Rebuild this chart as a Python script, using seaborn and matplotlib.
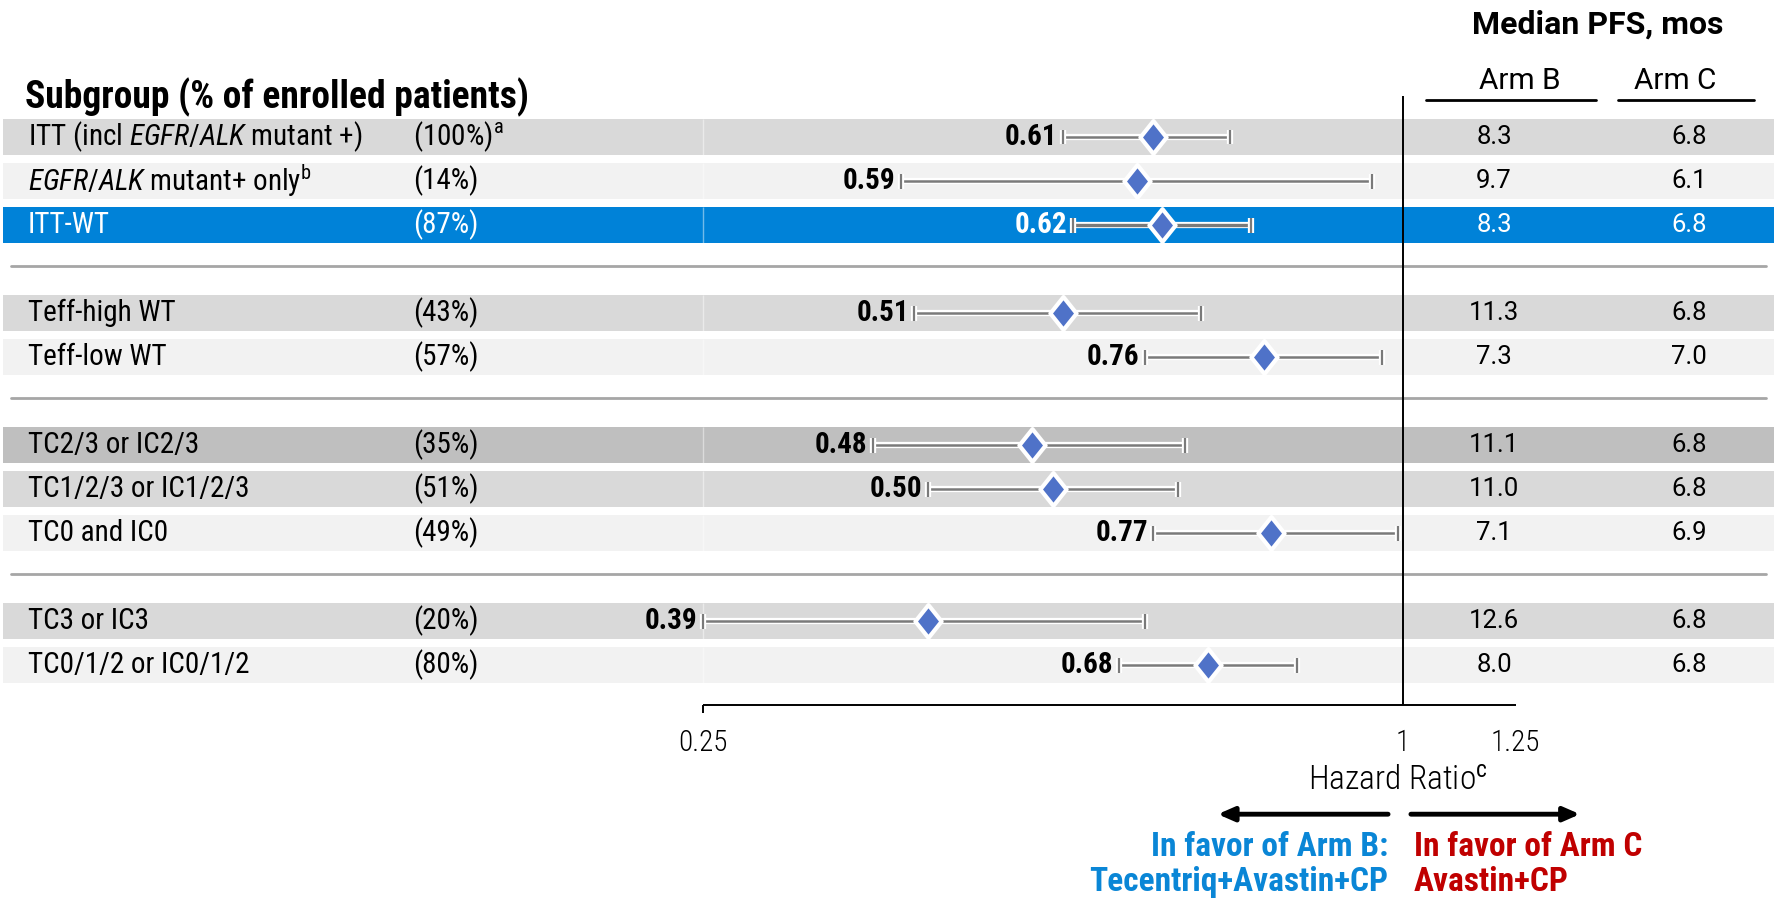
import matplotlib
matplotlib.use("Agg")
import matplotlib.pyplot as plt
import matplotlib.transforms as mtransforms
import matplotlib.patheffects as pe
from matplotlib.path import Path
from matplotlib import font_manager
import numpy as np
import pandas as pd
import seaborn as sns

# ---- data ----
subgroups = [
    r"ITT (incl $\mathit{EGFR/ALK}$ mutant +)",
    r"$\mathit{EGFR/ALK}$ mutant+ only$^{\mathrm{b}}$",
    "ITT-WT",
    "Teff-high WT",
    "Teff-low WT",
    "TC2/3 or IC2/3",
    "TC1/2/3 or IC1/2/3",
    "TC0 and IC0",
    "TC3 or IC3",
    "TC0/1/2 or IC0/1/2",
]
enrolled = [r"(100%)$^{\mathrm{a}}$", "(14%)", "(87%)", "(43%)", "(57%)",
            "(35%)", "(51%)", "(49%)", "(20%)", "(80%)"]
groups = [0, 0, 0, 1, 1, 2, 2, 2, 3, 3]
hazard_ratio = [0.61, 0.59, 0.62, 0.51, 0.76, 0.48, 0.50, 0.77, 0.39, 0.68]
ci_low = [0.51, 0.37, 0.52, 0.38, 0.60, 0.35, 0.39, 0.61, 0.25, 0.57]
ci_high = [0.71, 0.94, 0.74, 0.67, 0.96, 0.65, 0.64, 0.99, 0.60, 0.81]
pfs_arm_b = ["8.3", "9.7", "8.3", "11.3", "7.3", "11.1", "11.0", "7.1", "12.6", "8.0"]
pfs_arm_c = ["6.8", "6.1", "6.8", "6.8", "7.0", "6.8", "6.8", "6.9", "6.8", "6.8"]
axis_ticks = [0.25, 1, 1.25]
axis_tick_labels = ["0.25", "1", "1.25"]
highlight_row = 2

# ---- fonts ----
sns.set_theme(style="white")
available = {f.name for f in font_manager.fontManager.ttflist}
cond = next((f for f in ["Roboto Condensed", "Liberation Sans Narrow", "Roboto", "Liberation Sans"]
             if f in available), "DejaVu Sans")
plt.rcParams["font.family"] = [cond, "DejaVu Sans"]
plt.rcParams["mathtext.fontset"] = "custom"
plt.rcParams["mathtext.rm"] = cond
plt.rcParams["mathtext.it"] = f"{cond}:italic"
plt.rcParams["mathtext.bf"] = f"{cond}:bold"
wide = ["Roboto", "DejaVu Sans"]

W, H = 1777, 900
fig = plt.figure(figsize=(W / 100, H / 100), dpi=100)
ax = fig.add_axes([0, 0, 1, 1])
ax.set_xscale("log")
ax.set_xlim(2 ** -4.009, 2 ** 1.069)

# row positions: one unit per row, an empty unit between groups
pos = []
p = 0.0
for i, g in enumerate(groups):
    if i > 0 and g != groups[i - 1]:
        p += 1
    pos.append(p)
    if i < len(groups) - 1:
        p += 1
pos = np.array(pos)
ax.set_ylim(17.34, -3.114)
ax.axis("off")

def fx(px):
    return px / W

blend = mtransforms.blended_transform_factory(ax.transAxes, ax.transData)

band_colors = ["#D9D9D9", "#F2F2F2", "#0082D8", "#D9D9D9", "#F2F2F2",
               "#BFBFBF", "#D9D9D9", "#F2F2F2", "#D9D9D9", "#F2F2F2"]
half = 0.41
for y, c in zip(pos, band_colors):
    ax.axhspan(y - half, y + half, xmin=fx(3), xmax=fx(1774), color=c, lw=0, zorder=0)
    ax.vlines(0.25, y - half, y + half, color="white", alpha=0.45, lw=1, zorder=1)

# group separators
for i in range(1, len(groups)):
    if groups[i] != groups[i - 1]:
        ysep = (pos[i] + pos[i - 1]) / 2 - 0.08
        ax.plot([fx(11), fx(1766)], [ysep, ysep], transform=blend,
                color="#A6A6A6", lw=2, zorder=1)

# reference line at HR = 1 and the axis
axis_y = 12.91
ax.vlines(1, -0.93, axis_y, color="black", lw=1.4, zorder=2)
ax.hlines(axis_y, 0.25, 1.25, color="black", lw=1.4, zorder=2)
ax.vlines(0.25, axis_y, axis_y + 0.18, color="black", lw=1.4, zorder=2)
for t, lab in zip(axis_ticks, axis_tick_labels):
    ax.text(t, 13.78, lab, ha="center", va="center", fontsize=21,
            fontweight="light", color="black")
ax.text(0.99, 14.64, r"Hazard Ratio$^{\mathrm{c}}$", ha="center", va="center",
        fontsize=24, fontweight="light", color="black")

# confidence intervals
halo = [pe.Stroke(linewidth=4.5, foreground="white"), pe.Normal()]
for i, (y, lo, hi) in enumerate(zip(pos, ci_low, ci_high)):
    lw = 2.4 if i == highlight_row else 1.8
    ax.hlines(y, lo, hi, color="#7A7A7A", lw=lw, zorder=3, path_effects=halo)
    ax.vlines([lo, hi], y - 0.17, y + 0.17, color="#7A7A7A", lw=1.6, zorder=3,
              path_effects=halo)
    ax.annotate(f"{hazard_ratio[i]:.2f}", xy=(lo, y), xytext=(-4, 0),
                textcoords="offset points", ha="right", va="center",
                fontsize=21, fontweight="bold",
                color="white" if i == highlight_row else "black", zorder=4)

# point estimates
diamond = Path([(0, 1), (0.8, 0), (0, -1), (-0.8, 0), (0, 1)],
               [Path.MOVETO, Path.LINETO, Path.LINETO, Path.LINETO, Path.CLOSEPOLY])
df = pd.DataFrame({"hr": hazard_ratio, "pos": pos})
sns.scatterplot(data=df, x="hr", y="pos", marker=diamond, s=560, color="#4F72C8",
                edgecolor="white", linewidth=3.0, ax=ax, legend=False, zorder=5)
ax.set_xlabel("")
ax.set_ylabel("")
ax.axis("off")

# table text
for i, y in enumerate(pos):
    tc = "white" if i == highlight_row else "black"
    ax.text(fx(28), y, subgroups[i], transform=blend, ha="left", va="center",
            fontsize=21, color=tc)
    ax.text(fx(413), y, enrolled[i], transform=blend, ha="left", va="center",
            fontsize=21, color=tc)
    ax.text(fx(1494), y, pfs_arm_b[i], transform=blend, ha="center", va="center",
            fontsize=18.5, family=wide, color=tc)
    ax.text(fx(1689), y, pfs_arm_c[i], transform=blend, ha="center", va="center",
            fontsize=18.5, family=wide, color=tc)

# headers
ax.text(fx(25), -0.9, "Subgroup (% of enrolled patients)", transform=blend,
        ha="left", va="center", fontsize=27, fontweight="bold", color="black")
ax.text(fx(1598), -2.55, "Median PFS, mos", transform=blend, ha="center",
        va="center", fontsize=23, fontweight="bold", family=wide, color="black")
ax.text(fx(1520), -1.27, "Arm B", transform=blend, ha="center", va="center",
        fontsize=21.5, family=wide, color="black")
ax.text(fx(1675), -1.27, "Arm C", transform=blend, ha="center", va="center",
        fontsize=21.5, family=wide, color="black")
ax.plot([fx(1426), fx(1596)], [-0.84, -0.84], transform=blend, color="black", lw=2)
ax.plot([fx(1618), fx(1754)], [-0.84, -0.84], transform=blend, color="black", lw=2)

# direction arrows
arrow_y = 15.39
arrow = dict(arrowstyle="-|>,head_length=0.8,head_width=0.35", color="black", lw=3.5,
             shrinkA=0, shrinkB=0)
ax.annotate("", xy=(0.693, arrow_y), xytext=(0.971, arrow_y), arrowprops=arrow)
ax.annotate("", xy=(1.42, arrow_y), xytext=(1.016, arrow_y), arrowprops=arrow)

blue_txt = "#0A86D6"
red_txt = "#C00000"
ax.text(0.971, 16.14, "In favor of Arm B:", ha="right", va="center", fontsize=24,
        fontweight="bold", color=blue_txt)
ax.text(0.971, 16.92, "Tecentriq+Avastin+CP", ha="right", va="center", fontsize=24,
        fontweight="bold", color=blue_txt)
ax.text(1.022, 16.14, "In favor of Arm C", ha="left", va="center", fontsize=24,
        fontweight="bold", color=red_txt)
ax.text(1.022, 16.92, "Avastin+CP", ha="left", va="center", fontsize=24,
        fontweight="bold", color=red_txt)

fig.savefig("out.png", dpi=100, facecolor="white")
